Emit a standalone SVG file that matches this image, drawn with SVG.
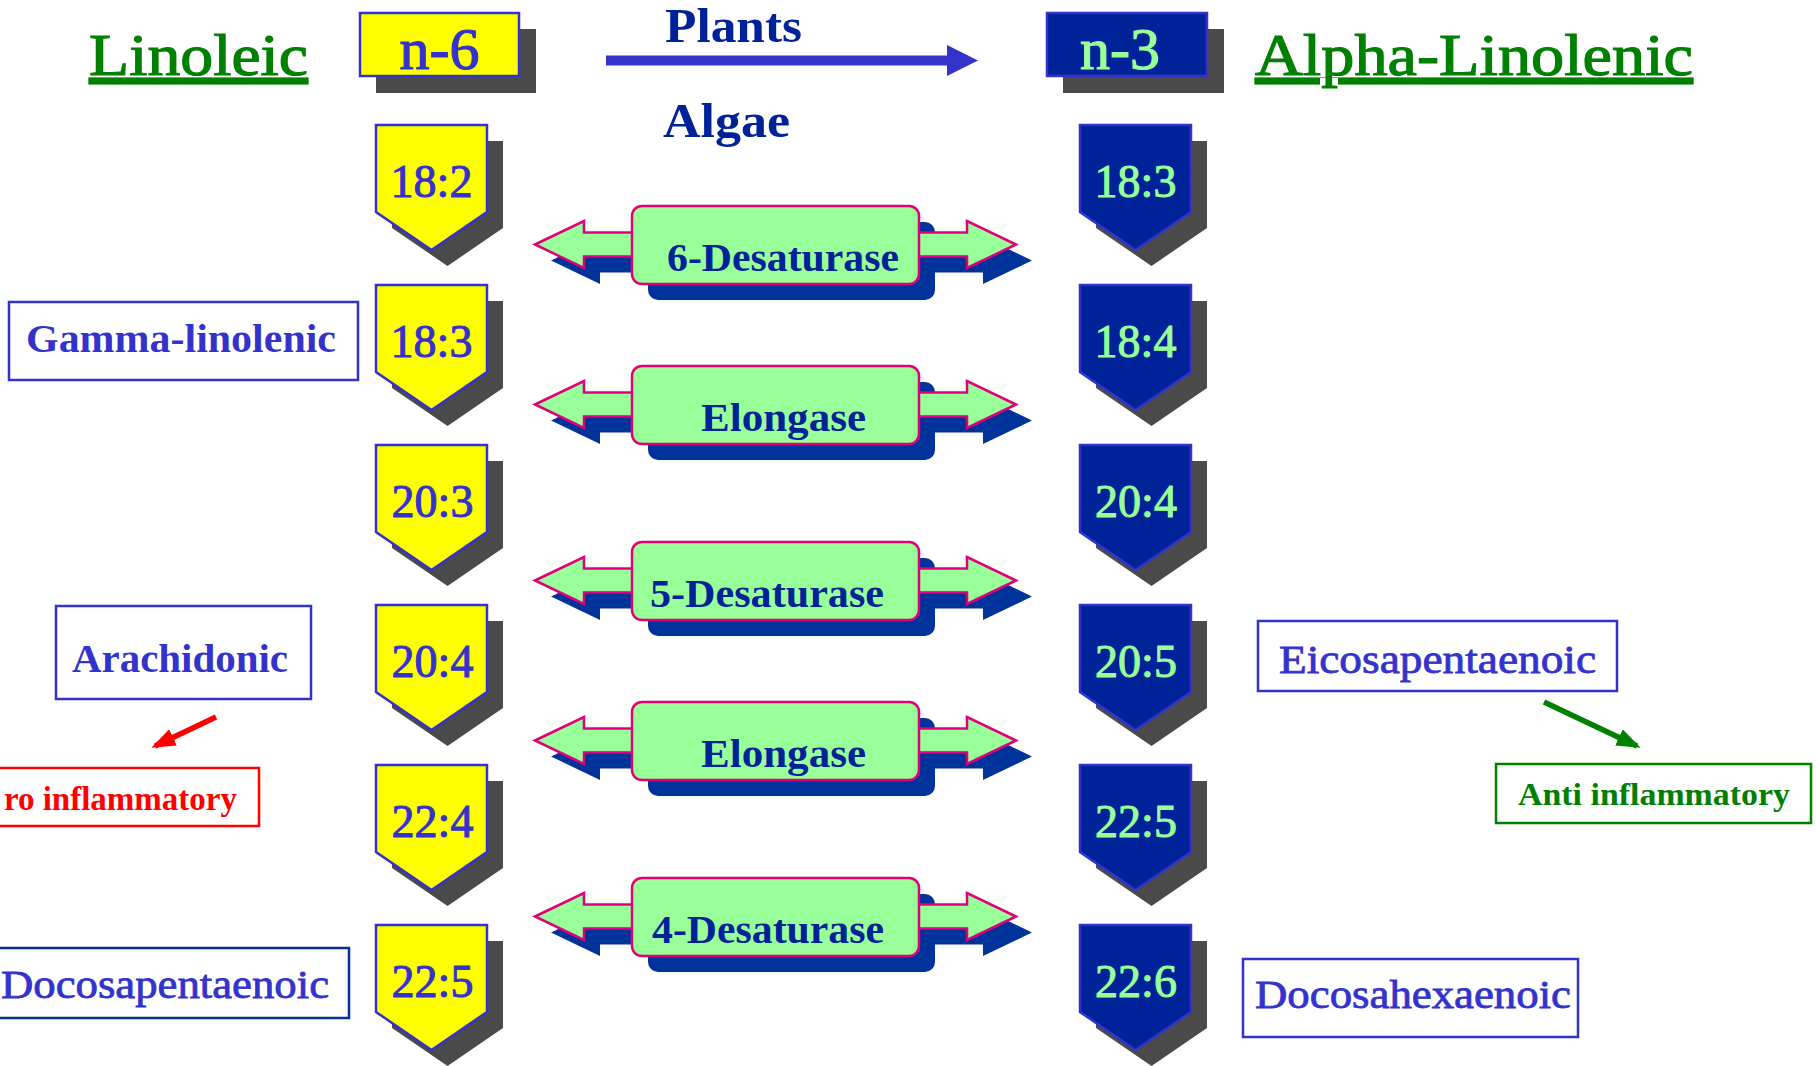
<svg xmlns="http://www.w3.org/2000/svg" width="1816" height="1066" viewBox="0 0 1816 1066">
<defs>
<style>
text{font-family:"Liberation Serif","Times New Roman",serif}
.title{font-size:60px;fill:#008000;stroke:#008000;stroke-width:1.2px;text-decoration:underline}
.shadow{fill:#4a4a4a}
.pentY{fill:#ffff00;stroke:#3333cc;stroke-width:2.5}
.pentN{fill:#002299;stroke:#3333cc;stroke-width:2.5}
.numY{font-size:46px;fill:#3333cc;stroke:#3333cc;stroke-width:1px;text-anchor:middle}
.numN{font-size:46px;fill:#99ff99;stroke:#99ff99;stroke-width:1px;text-anchor:middle}
.lbl{fill:#fff;stroke:#3333cc;stroke-width:2.5}
.lbltxt{font-size:40px;fill:#3333cc}
.reg{stroke:#3333cc;stroke-width:0.8px}
.enzSh{fill:#003399}
.enzG{fill:#99ff99;stroke:#e0007a;stroke-width:2.5}
.enzT{font-size:39px;font-weight:bold;fill:#002299}
.src{font-size:48px;font-weight:bold;fill:#002299}
</style>
<polygon id="pent" points="0,0 111,0 111,87 55.5,125 0,87"/>
<polygon id="darrow" points="535,38.5 584,15 584,26.5 967,26.5 967,15 1016,38.5 967,62 967,50.5 584,50.5 584,62"/>
<marker id="headRed" markerUnits="userSpaceOnUse" markerWidth="26" markerHeight="22" refX="20" refY="9" orient="auto"><polygon points="0,0 24,9 0,18" fill="#ff0000"/></marker>
<marker id="headGreen" markerUnits="userSpaceOnUse" markerWidth="26" markerHeight="22" refX="20" refY="9" orient="auto"><polygon points="0,0 24,9 0,18" fill="#008000"/></marker>
</defs>
<rect width="1816" height="1066" fill="#fff"/>

<g id="title-linoleic"><text class="title" x="89" y="75" textLength="219" lengthAdjust="spacingAndGlyphs">Linoleic</text></g>
<g id="title-alpha"><text class="title" x="1255" y="75" textLength="438" lengthAdjust="spacingAndGlyphs">Alpha-Linolenic</text></g>

<g id="n6">
<rect class="shadow" x="376" y="29" width="160" height="64"/>
<rect x="360" y="13" width="159" height="63" fill="#ffff00" stroke="#3333cc" stroke-width="2.5"/>
<text x="439.5" y="69" font-size="60" fill="#3333cc" stroke="#3333cc" stroke-width="1.2" text-anchor="middle">n-6</text>
</g>
<g id="n3">
<rect class="shadow" x="1063" y="29" width="161" height="64"/>
<rect x="1047" y="13" width="160" height="63" fill="#002299" stroke="#3333cc" stroke-width="2.5"/>
<text x="1120" y="69" font-size="60" fill="#99ff99" stroke="#99ff99" stroke-width="1.2" text-anchor="middle">n-3</text>
</g>

<g id="plants"><text class="src" x="665" y="42" textLength="137" lengthAdjust="spacingAndGlyphs">Plants</text></g>
<g id="algae"><text class="src" x="663" y="137" textLength="127" lengthAdjust="spacingAndGlyphs">Algae</text></g>

<g id="n6-chain">
<g id="c18-2"><use href="#pent" class="shadow" x="392" y="141"/><use href="#pent" class="pentY" x="376" y="125"/><text class="numY" x="431.5" y="197">18:2</text></g>
<g id="c18-3a"><use href="#pent" class="shadow" x="392" y="301"/><use href="#pent" class="pentY" x="376" y="285"/><text class="numY" x="431.5" y="357">18:3</text></g>
<g id="c20-3"><use href="#pent" class="shadow" x="392" y="461"/><use href="#pent" class="pentY" x="376" y="445"/><text class="numY" x="432.5" y="517">20:3</text></g>
<g id="c20-4a"><use href="#pent" class="shadow" x="392" y="621"/><use href="#pent" class="pentY" x="376" y="605"/><text class="numY" x="432.5" y="677">20:4</text></g>
<g id="c22-4"><use href="#pent" class="shadow" x="392" y="781"/><use href="#pent" class="pentY" x="376" y="765"/><text class="numY" x="432.5" y="837">22:4</text></g>
<g id="c22-5a"><use href="#pent" class="shadow" x="392" y="941"/><use href="#pent" class="pentY" x="376" y="925"/><text class="numY" x="432.5" y="997">22:5</text></g>
</g>

<g id="n3-chain">
<g id="c18-3b"><use href="#pent" class="shadow" x="1096" y="141"/><use href="#pent" class="pentN" x="1080" y="125"/><text class="numN" x="1135.5" y="197">18:3</text></g>
<g id="c18-4"><use href="#pent" class="shadow" x="1096" y="301"/><use href="#pent" class="pentN" x="1080" y="285"/><text class="numN" x="1135.5" y="357">18:4</text></g>
<g id="c20-4b"><use href="#pent" class="shadow" x="1096" y="461"/><use href="#pent" class="pentN" x="1080" y="445"/><text class="numN" x="1136" y="517">20:4</text></g>
<g id="c20-5"><use href="#pent" class="shadow" x="1096" y="621"/><use href="#pent" class="pentN" x="1080" y="605"/><text class="numN" x="1136" y="677">20:5</text></g>
<g id="c22-5b"><use href="#pent" class="shadow" x="1096" y="781"/><use href="#pent" class="pentN" x="1080" y="765"/><text class="numN" x="1136" y="837">22:5</text></g>
<g id="c22-6"><use href="#pent" class="shadow" x="1096" y="941"/><use href="#pent" class="pentN" x="1080" y="925"/><text class="numN" x="1136" y="997">22:6</text></g>
</g>

<g id="enz-6des" transform="translate(0,206)">
<use href="#darrow" class="enzSh" x="16" y="16"/><rect class="enzSh" x="648" y="16" width="287" height="78" rx="10"/>
<use href="#darrow" class="enzG"/><rect class="enzG" x="632" y="0" width="287" height="78" rx="10"/>
<text class="enzT" x="667" y="65" textLength="232" lengthAdjust="spacingAndGlyphs">6-Desaturase</text>
</g>
<g id="enz-elong1" transform="translate(0,366)">
<use href="#darrow" class="enzSh" x="16" y="16"/><rect class="enzSh" x="648" y="16" width="287" height="78" rx="10"/>
<use href="#darrow" class="enzG"/><rect class="enzG" x="632" y="0" width="287" height="78" rx="10"/>
<text class="enzT" x="701" y="65" textLength="165" lengthAdjust="spacingAndGlyphs">Elongase</text>
</g>
<g id="enz-5des" transform="translate(0,542)">
<use href="#darrow" class="enzSh" x="16" y="16"/><rect class="enzSh" x="648" y="16" width="287" height="78" rx="10"/>
<use href="#darrow" class="enzG"/><rect class="enzG" x="632" y="0" width="287" height="78" rx="10"/>
<text class="enzT" x="650" y="65" textLength="234" lengthAdjust="spacingAndGlyphs">5-Desaturase</text>
</g>
<g id="enz-elong2" transform="translate(0,702)">
<use href="#darrow" class="enzSh" x="16" y="16"/><rect class="enzSh" x="648" y="16" width="287" height="78" rx="10"/>
<use href="#darrow" class="enzG"/><rect class="enzG" x="632" y="0" width="287" height="78" rx="10"/>
<text class="enzT" x="701" y="65" textLength="165" lengthAdjust="spacingAndGlyphs">Elongase</text>
</g>
<g id="enz-4des" transform="translate(0,878)">
<use href="#darrow" class="enzSh" x="16" y="16"/><rect class="enzSh" x="648" y="16" width="287" height="78" rx="10"/>
<use href="#darrow" class="enzG"/><rect class="enzG" x="632" y="0" width="287" height="78" rx="10"/>
<text class="enzT" x="652" y="65" textLength="232" lengthAdjust="spacingAndGlyphs">4-Desaturase</text>
</g>

<g id="lbl-gamma"><rect class="lbl" x="9" y="302" width="349" height="78"/><text class="lbltxt" x="26" y="352" font-size="43" font-weight="bold" textLength="310" lengthAdjust="spacingAndGlyphs">Gamma-linolenic</text></g>
<g id="lbl-arach"><rect class="lbl" x="56" y="606" width="255" height="93"/><text class="lbltxt" x="72" y="672" font-size="43" font-weight="bold" textLength="216" lengthAdjust="spacingAndGlyphs">Arachidonic</text></g>
<g id="lbl-pro"><rect x="-5" y="768" width="264" height="58" fill="#fff" stroke="#ff0000" stroke-width="2.5"/><text x="237" y="810" font-size="33" font-weight="bold" fill="#ff0000" text-anchor="end">ro inflammatory</text></g>
<g id="lbl-dpa"><rect x="-5" y="948" width="354" height="70" fill="#fff" stroke="#003399" stroke-width="2.5"/><text class="lbltxt reg" x="1" y="998" textLength="328" lengthAdjust="spacingAndGlyphs">Docosapentaenoic</text></g>
<g id="lbl-epa"><rect class="lbl" x="1258" y="621" width="359" height="70"/><text class="lbltxt reg" x="1279" y="673" textLength="317" lengthAdjust="spacingAndGlyphs">Eicosapentaenoic</text></g>
<g id="lbl-anti"><rect x="1496" y="764" width="315" height="59" fill="#fff" stroke="#008000" stroke-width="2.5"/><text x="1518" y="805" font-size="31" font-weight="bold" fill="#008000" textLength="272" lengthAdjust="spacingAndGlyphs">Anti inflammatory</text></g>
<g id="lbl-dha"><rect class="lbl" x="1243" y="959" width="335" height="78"/><text class="lbltxt reg" x="1255" y="1008" font-size="39" textLength="316" lengthAdjust="spacingAndGlyphs">Docosahexaenoic</text></g>

<g id="connectors">
<line x1="606" y1="60.5" x2="950" y2="60.5" stroke="#3333cc" stroke-width="10"/>
<polygon points="947,45 978,60.5 947,76" fill="#3333cc"/>
<line x1="216" y1="717" x2="155" y2="746" stroke="#ff0000" stroke-width="5.5" marker-end="url(#headRed)"/>
<line x1="1544" y1="702" x2="1637" y2="746" stroke="#008000" stroke-width="5.5" marker-end="url(#headGreen)"/>
</g>
</svg>
